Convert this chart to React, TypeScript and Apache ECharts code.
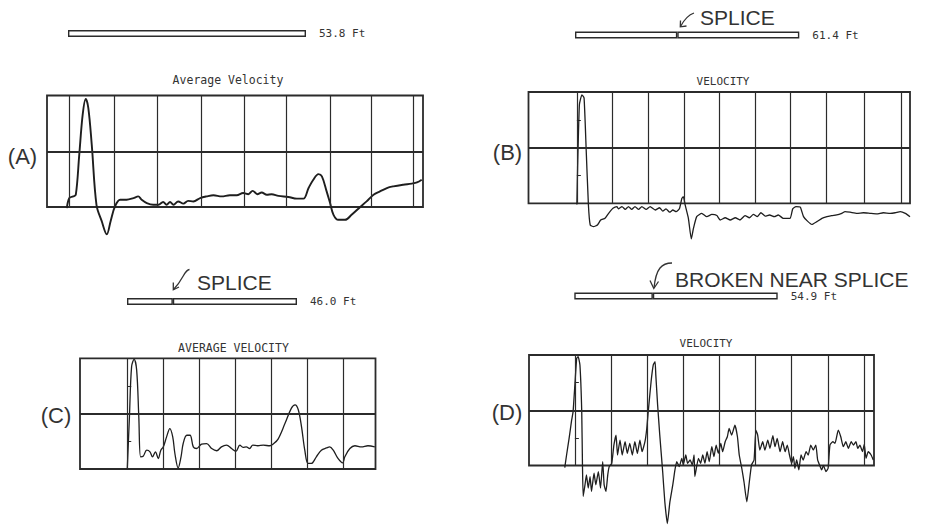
import React, { useEffect, useRef } from "react";
import * as echarts from "echarts";

// ---------------- data ----------------
const panelLetters = ["(A)", "(B)", "(C)", "(D)"];
const traceTitles = ["Average Velocity", "VELOCITY", "AVERAGE VELOCITY", "VELOCITY"];
const pileLengths = [53.8, 61.4, 46.0, 54.9]; // ft
const splicePositions: (number | null)[] = [null, 28.0, 12.4, 21.2]; // ft from pile top
const spliceNotes = ["", "SPLICE", "SPLICE", "BROKEN NEAR SPLICE"];

// time-division lines (in divisions, 0 = impact)
const divisionsA = [0, 1.05, 2.05, 3.07, 4.07, 5.06, 6.07, 7.02, 8.0];
const divisionsB = [0, 0.98, 1.98, 2.98, 3.95, 4.94, 5.91, 6.92, 7.96, 9.0];
const divisionsC = [0, 1, 2, 3, 4, 5, 6];
const divisionsD = [0, 1, 2, 3, 4, 5, 6, 7, 8];

// velocity traces [time (div), velocity (normalised, +1 = top line, -1 = bottom line)]
const traceA = [[-0.05,-1.02],[0.01,-0.84],[0.10,-0.81],[0.16,-0.78],[0.24,-0.06],[0.32,0.66],[0.39,0.94],[0.45,0.78],[0.53,0.12],[0.64,-0.96],[0.76,-1.25],[0.88,-1.49],[0.97,-1.25],[1.07,-0.99],[1.19,-0.87],[1.34,-0.87],[1.50,-0.84],[1.61,-0.81],[1.69,-0.87],[1.81,-0.93],[1.96,-0.96],[2.08,-0.96],[2.19,-0.91],[2.27,-0.96],[2.35,-0.91],[2.43,-0.96],[2.54,-0.90],[2.66,-0.94],[2.77,-0.89],[2.89,-0.90],[3.05,-0.84],[3.20,-0.81],[3.36,-0.79],[3.55,-0.81],[3.74,-0.79],[3.90,-0.79],[4.05,-0.75],[4.17,-0.77],[4.27,-0.71],[4.38,-0.77],[4.48,-0.74],[4.60,-0.78],[4.71,-0.77],[4.87,-0.80],[5.10,-0.82],[5.30,-0.85],[5.45,-0.85],[5.57,-0.66],[5.68,-0.51],[5.80,-0.41],[5.88,-0.45],[5.99,-0.72],[6.07,-0.93],[6.15,-1.14],[6.26,-1.23],[6.42,-1.23],[6.57,-1.14],[6.77,-1.00],[6.92,-0.90],[7.08,-0.78],[7.23,-0.72],[7.39,-0.66],[7.54,-0.63],[7.77,-0.60],[7.97,-0.58],[8.09,-0.56],[8.20,-0.51]];

const traceB = [[0,-1.02],[0.02,-0.37],[0.07,0.77],[0.14,0.95],[0.20,0.89],[0.26,-0.07],[0.32,-1.03],[0.37,-1.39],[0.46,-1.42],[0.57,-1.39],[0.66,-1.30],[0.78,-1.27],[0.88,-1.18],[1.00,-1.09],[1.11,-1.06],[1.15,-1.10],[1.25,-1.06],[1.34,-1.11],[1.43,-1.06],[1.52,-1.11],[1.61,-1.06],[1.71,-1.11],[1.80,-1.06],[1.92,-1.11],[2.03,-1.06],[2.17,-1.12],[2.29,-1.08],[2.38,-1.14],[2.47,-1.10],[2.57,-1.16],[2.66,-1.12],[2.75,-1.15],[2.84,-1.10],[2.91,-0.91],[2.95,-0.88],[3.00,-1.03],[3.09,-1.27],[3.17,-1.64],[3.23,-1.45],[3.32,-1.24],[3.46,-1.18],[3.60,-1.24],[3.74,-1.20],[3.88,-1.22],[3.97,-1.30],[4.11,-1.26],[4.25,-1.30],[4.39,-1.26],[4.52,-1.30],[4.66,-1.22],[4.78,-1.26],[4.89,-1.20],[5.00,-1.24],[5.10,-1.17],[5.22,-1.23],[5.34,-1.21],[5.47,-1.24],[5.58,-1.21],[5.72,-1.27],[5.91,-1.27],[5.98,-1.10],[6.07,-1.06],[6.19,-1.07],[6.28,-1.24],[6.39,-1.32],[6.51,-1.38],[6.65,-1.33],[6.79,-1.27],[6.93,-1.24],[7.06,-1.22],[7.20,-1.21],[7.34,-1.18],[7.43,-1.15],[7.57,-1.16],[7.76,-1.18],[7.94,-1.17],[8.12,-1.18],[8.31,-1.19],[8.49,-1.17],[8.68,-1.18],[8.82,-1.17],[8.96,-1.15],[9.10,-1.18],[9.23,-1.24]];

const traceC = [[0,-1.00],[0.06,-0.06],[0.12,0.85],[0.19,0.98],[0.26,0.79],[0.32,-0.06],[0.37,-0.78],[0.44,-0.77],[0.54,-0.66],[0.63,-0.69],[0.70,-0.78],[0.78,-0.69],[0.86,-0.81],[0.93,-0.66],[1.00,-0.60],[1.09,-0.42],[1.18,-0.27],[1.26,-0.42],[1.32,-0.72],[1.41,-0.98],[1.49,-0.78],[1.55,-0.54],[1.65,-0.39],[1.74,-0.39],[1.83,-0.60],[1.92,-0.63],[2.06,-0.55],[2.20,-0.54],[2.34,-0.63],[2.48,-0.67],[2.61,-0.60],[2.75,-0.57],[2.89,-0.63],[3.01,-0.68],[3.12,-0.57],[3.21,-0.61],[3.30,-0.60],[3.39,-0.63],[3.48,-0.57],[3.62,-0.58],[3.77,-0.57],[3.95,-0.58],[4.06,-0.54],[4.18,-0.46],[4.37,-0.18],[4.55,0.10],[4.65,0.16],[4.74,0.07],[4.83,-0.24],[4.92,-0.66],[5.01,-0.90],[5.10,-0.90],[5.24,-0.78],[5.38,-0.66],[5.52,-0.62],[5.61,-0.60],[5.71,-0.66],[5.84,-0.81],[5.97,-0.89],[6.03,-0.78],[6.17,-0.63],[6.31,-0.58],[6.49,-0.60],[6.67,-0.58],[6.86,-0.60]];

const traceD = [[-0.28,-1.04],[-0.23,-0.81],[-0.16,-0.51],[-0.09,-0.18],[-0.05,-0.03],[0.00,0.46],[0.05,0.94],[0.09,0.97],[0.14,0.82],[0.19,-0.03],[0.21,-0.99],[0.23,-1.56],[0.28,-1.35],[0.32,-1.17],[0.37,-1.41],[0.42,-1.20],[0.46,-1.47],[0.53,-1.14],[0.58,-1.35],[0.65,-1.11],[0.71,-1.41],[0.77,-0.93],[0.81,-1.35],[0.86,-1.47],[0.91,-1.17],[0.95,-1.02],[1.02,-0.96],[1.08,-0.63],[1.14,-0.45],[1.18,-0.81],[1.25,-0.54],[1.31,-0.81],[1.39,-0.57],[1.45,-0.78],[1.52,-0.60],[1.59,-0.81],[1.66,-0.57],[1.73,-0.78],[1.80,-0.54],[1.86,-0.75],[1.94,-0.57],[1.99,-0.33],[2.03,-0.03],[2.11,0.52],[2.17,0.82],[2.22,0.88],[2.24,0.64],[2.29,0.10],[2.35,-0.45],[2.43,-1.11],[2.49,-1.66],[2.56,-2.05],[2.63,-1.66],[2.71,-1.35],[2.77,-1.08],[2.82,-0.93],[2.89,-1.02],[2.96,-0.87],[3.00,-0.99],[3.07,-0.81],[3.12,-0.96],[3.19,-0.90],[3.25,-0.99],[3.30,-0.81],[3.32,-1.20],[3.42,-0.87],[3.48,-0.96],[3.54,-0.81],[3.60,-0.96],[3.66,-0.75],[3.72,-0.93],[3.79,-0.66],[3.85,-0.84],[3.91,-0.63],[3.97,-0.78],[4.04,-0.60],[4.09,-0.75],[4.16,-0.57],[4.22,-0.48],[4.27,-0.33],[4.34,-0.45],[4.43,-0.27],[4.50,-0.48],[4.55,-0.81],[4.62,-1.05],[4.68,-1.29],[4.76,-1.66],[4.83,-1.29],[4.89,-0.99],[4.96,-0.90],[5.01,-0.36],[5.06,-0.45],[5.12,-0.72],[5.20,-0.57],[5.26,-0.72],[5.34,-0.54],[5.40,-0.69],[5.48,-0.46],[5.54,-0.66],[5.60,-0.51],[5.68,-0.75],[5.75,-0.57],[5.82,-0.75],[5.88,-0.63],[5.94,-0.81],[6.00,-0.96],[6.05,-0.84],[6.09,-1.05],[6.14,-0.90],[6.20,-1.08],[6.26,-0.81],[6.32,-0.90],[6.40,-0.75],[6.46,-0.81],[6.53,-0.63],[6.60,-0.72],[6.67,-0.63],[6.72,-0.90],[6.79,-1.02],[6.83,-1.08],[6.88,-1.00],[6.95,-1.11],[7.01,-1.05],[7.06,-0.63],[7.14,-0.57],[7.20,-0.60],[7.29,-0.36],[7.36,-0.48],[7.43,-0.66],[7.50,-0.57],[7.57,-0.69],[7.65,-0.57],[7.71,-0.63],[7.78,-0.57],[7.83,-0.69],[7.89,-0.63],[7.96,-0.75],[8.01,-0.62],[8.06,-0.87],[8.12,-0.75],[8.20,-0.81],[8.26,-0.90]];

const traces = [traceA, traceB, traceC, traceD];
const divisions = [divisionsA, divisionsB, divisionsC, divisionsD];

// ---------------- layout (pixels) ----------------
const plotGrids = [
  { left: 47, top: 95.5, width: 376, height: 111.5, xmin: -0.51, xmax: 8.23 },
  { left: 528.5, top: 92, width: 381.5, height: 111.3, xmin: -1.34, xmax: 9.23 },
  { left: 80, top: 358.3, width: 295.5, height: 110.7, xmin: -1.31, xmax: 6.88 },
  { left: 529, top: 355, width: 345, height: 110.5, xmin: -1.27, xmax: 8.28 },
];
const pileGrids = [
  { left: 68, top: 30, width: 238 },
  { left: 575, top: 31.5, width: 224.3 },
  { left: 127, top: 298, width: 170 },
  { left: 574.3, top: 292.5, width: 203.4 },
];
const titlePos = [[228, 80], [723, 81], [233.5, 347.5], [706, 343]];
const titleSize = [11.5, 11, 11.5, 11];
const letterPos = [[22.5, 156], [507.5, 152], [56, 415], [507, 412]];
const notePos = [[0, 0], [700, 17], [197, 282], [675, 279]];

const INK = "#2b2b2b";
const MONO = "'DejaVu Sans Mono', monospace";
const SANS = "'Liberation Sans', Arial, sans-serif";

export default function App() {
  const ref = useRef<HTMLDivElement>(null);

  useEffect(() => {
    if (!ref.current) return;
    const chart = echarts.init(ref.current, null, { renderer: "svg" });

    const grid: any[] = [];
    const xAxis: any[] = [];
    const yAxis: any[] = [];
    const series: any[] = [];
    const graphic: any[] = [];

    plotGrids.forEach((g, i) => {
      grid.push({
        left: g.left, top: g.top, width: g.width, height: g.height,
        show: true, borderColor: INK, borderWidth: 1.8, backgroundColor: "transparent",
      });
      xAxis.push({
        type: "value", gridIndex: i, min: g.xmin, max: g.xmax,
        axisLine: { show: false }, axisTick: { show: false }, axisLabel: { show: false }, splitLine: { show: false },
      });
      yAxis.push({
        type: "value", gridIndex: i, min: -1, max: 1, interval: 0.5,
        axisLine: { show: false },
        axisTick: { show: i > 0, inside: true, length: 4, lineStyle: { color: INK, width: 1 } },
        axisLabel: { show: false }, splitLine: { show: false },
      });
      series.push({
        type: "line", xAxisIndex: i, yAxisIndex: i, data: traces[i],
        showSymbol: false, symbol: "none", clip: false, silent: true,
        smooth: i === 0 || i === 2 ? 0.35 : 0.15,
        lineStyle: { color: "#1e1e1e", width: i === 0 ? 1.9 : 1.3 },
        markLine: {
          silent: true, symbol: "none", label: { show: false }, animation: false,
          lineStyle: { color: INK, width: 1.2, type: "solid" },
          data: [
            ...divisions[i].map((v) => ({ xAxis: v })),
            { yAxis: 0, lineStyle: { color: INK, width: 1.9, type: "solid" } },
          ],
        },
      });
    });

    pileGrids.forEach((p, k) => {
      const gi = 4 + k;
      grid.push({ left: p.left, top: p.top, width: p.width, height: 7 });
      xAxis.push({ type: "value", gridIndex: gi, min: 0, max: pileLengths[k], show: false });
      yAxis.push({ type: "category", gridIndex: gi, data: ["pile"], show: false });
      const s = splicePositions[k];
      const segments = s === null ? [pileLengths[k]] : [s, +(pileLengths[k] - s).toFixed(1)];
      segments.forEach((seg, j) => {
        const last = j === segments.length - 1;
        series.push({
          type: "bar", xAxisIndex: gi, yAxisIndex: gi, stack: "pile" + k, data: [seg],
          barWidth: 7, silent: true,
          itemStyle: { color: "#ffffff", borderColor: INK, borderWidth: 1.4 },
          label: last
            ? {
                show: true, position: "right", distance: 13,
                formatter: () => pileLengths[k].toFixed(1) + " Ft",
                fontFamily: MONO, fontSize: 11, color: "#333",
              }
            : { show: false },
        });
      });
    });

    titlePos.forEach((p, i) => {
      graphic.push({
        type: "text", x: p[0], y: p[1], silent: true,
        style: { text: traceTitles[i], fontFamily: MONO, fontSize: titleSize[i], fill: "#333", align: "center", verticalAlign: "middle" },
      });
      graphic.push({
        type: "text", x: letterPos[i][0], y: letterPos[i][1], silent: true,
        style: { text: panelLetters[i], fontFamily: SANS, fontSize: 22, fill: "#333", align: "center", verticalAlign: "middle" },
      });
      if (spliceNotes[i]) {
        graphic.push({
          type: "text", x: notePos[i][0], y: notePos[i][1], silent: true,
          style: { text: spliceNotes[i], fontFamily: SANS, fontSize: 21, fill: "#333", align: "left", verticalAlign: "middle" },
        });
      }
    });

    const arrowStyle = { stroke: "#333", lineWidth: 1.3, fill: "none" };
    // B arrow
    graphic.push({ type: "bezierCurve", silent: true, shape: { x1: 694, y1: 13, cpx1: 688, cpy1: 15, cpx2: 684, cpy2: 20, x2: 680.5, y2: 26.5 }, style: arrowStyle });
    graphic.push({ type: "polyline", silent: true, shape: { points: [[680.5, 20.5], [680.3, 26.8], [686.5, 26]] }, style: arrowStyle });
    // C arrow (hooked tail)
    graphic.push({ type: "bezierCurve", silent: true, shape: { x1: 189.5, y1: 269.5, cpx1: 184, cpy1: 270, cpx2: 184, cpy2: 279, x2: 173.5, y2: 289.5 }, style: arrowStyle });
    graphic.push({ type: "polyline", silent: true, shape: { points: [[173.3, 282.5], [173.3, 289.8], [179, 287]] }, style: arrowStyle });
    // D arrow (hooked tail)
    graphic.push({ type: "bezierCurve", silent: true, shape: { x1: 672, y1: 263, cpx1: 662, cpy1: 263, cpx2: 656, cpy2: 268, x2: 654, y2: 288 }, style: arrowStyle });
    graphic.push({ type: "polyline", silent: true, shape: { points: [[650, 280.5], [653.8, 288.5], [658.5, 281.5]] }, style: arrowStyle });

    chart.setOption({
      animation: false,
      backgroundColor: "#ffffff",
      grid, xAxis, yAxis, series, graphic,
    });

    return () => chart.dispose();
  }, []);

  return (
    <div
      ref={ref}
      style={{ position: "absolute", left: 0, top: 0, width: 935, height: 530 }}
    />
  );
}
